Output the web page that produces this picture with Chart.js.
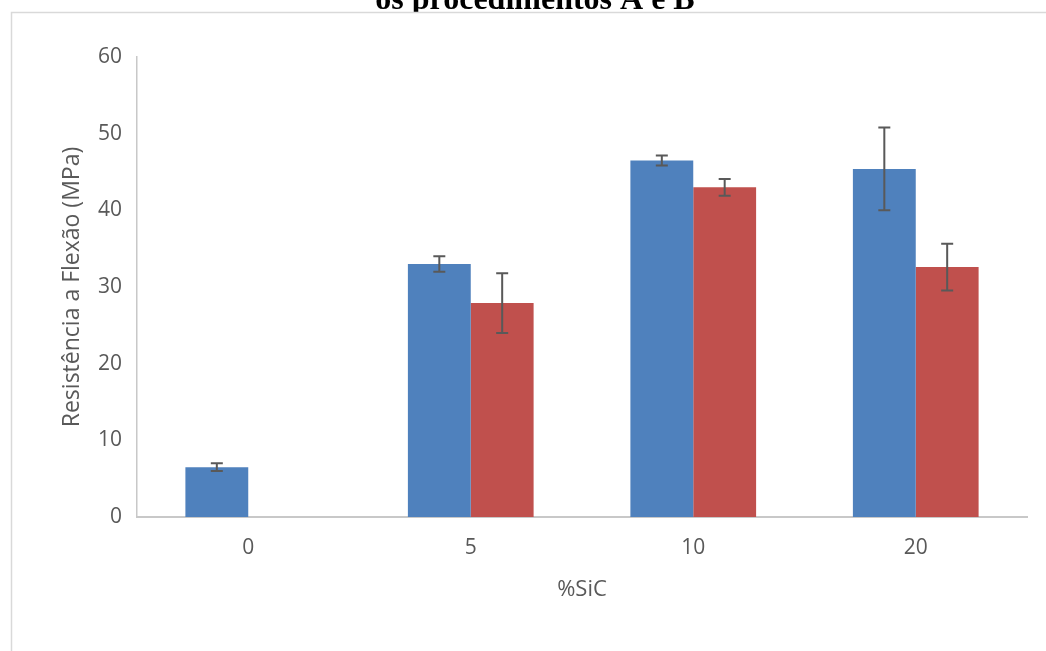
<!DOCTYPE html>
<html>
<head>
<meta charset="utf-8">
<script src="https://cdn.jsdelivr.net/npm/chart.js@4"></script>
<style>
  html, body { margin: 0; padding: 0; background: #fff; }
  #wrap { width: 1046px; height: 651px; position: relative; }
</style>
</head>
<body>
<div id="wrap"><canvas id="chart"></canvas></div>
<script>
const categories = ["0", "5", "10", "20"];
const seriesA = [6.5, 33.0, 46.5, 45.4];
const errorsA = [0.5, 1.0, 0.65, 5.4];
const seriesB = [null, 27.9, 43.0, 32.6];
const errorsB = [null, 3.9, 1.1, 3.05];
const yTicks = [0, 10, 20, 30, 40, 50, 60];

const grey = "#595959";

// white panel with a thin border, title peeking above it
const framePlugin = {
  id: "frame",
  beforeDraw(chart) {
    const ctx = chart.ctx;
    ctx.save();
    ctx.fillStyle = "#fff";
    ctx.fillRect(0, 0, chart.width, chart.height);
    ctx.fillStyle = "#000";
    ctx.font = "bold 32px 'Liberation Serif', 'Times New Roman', serif";
    ctx.textAlign = "center";
    ctx.textBaseline = "alphabetic";
    ctx.fillText("os procedimentos A e B", 535, 9);
    ctx.fillStyle = "#fff";
    ctx.fillRect(11, 12, chart.width, chart.height);
    ctx.strokeStyle = "#d9d9d9";
    ctx.lineWidth = 1.5;
    ctx.beginPath();
    ctx.moveTo(11.5, chart.height);
    ctx.lineTo(11.5, 12.5);
    ctx.lineTo(chart.width, 12.5);
    ctx.stroke();
    ctx.restore();
  }
};

// vertical error bars with caps
const errorBarPlugin = {
  id: "errorBars",
  afterDatasetsDraw(chart) {
    const ctx = chart.ctx;
    const y = chart.scales.y;
    const errs = [errorsA, errorsB];
    ctx.save();
    ctx.strokeStyle = grey;
    ctx.lineWidth = 2;
    chart.data.datasets.forEach((ds, i) => {
      const meta = chart.getDatasetMeta(i);
      meta.data.forEach((bar, j) => {
        const v = ds.data[j];
        const e = errs[i][j];
        if (v == null || e == null) return;
        const top = y.getPixelForValue(v + e);
        const bot = y.getPixelForValue(v - e);
        const x = bar.x;
        ctx.beginPath();
        ctx.moveTo(x, top);
        ctx.lineTo(x, bot);
        ctx.moveTo(x - 6, top);
        ctx.lineTo(x + 6, top);
        ctx.moveTo(x - 6, bot);
        ctx.lineTo(x + 6, bot);
        ctx.stroke();
      });
    });
    ctx.restore();
  }
};

const data = {
  labels: categories,
  datasets: [{
    label: "A",
    data: seriesA,
    backgroundColor: "#4f81bd",
    categoryPercentage: 0.565,
    barPercentage: 1.0
  }, {
    label: "B",
    data: seriesB,
    backgroundColor: "#c0504d",
    categoryPercentage: 0.565,
    barPercentage: 1.0
  }]
};

const config = {
  type: "bar",
  data: data,
  plugins: [framePlugin, errorBarPlugin],
  options: {
    responsive: true,
    maintainAspectRatio: false,
    animation: false,
    layout: {
      padding: {left: 12, top: 57, right: 19, bottom: 0}
    },
    plugins: {
      legend: {display: false},
      tooltip: {enabled: false}
    },
    scales: {
      x: {
        grid: {display: false, drawTicks: false},
        border: {display: true, color: "#c8c8c8", width: 2},
        ticks: {
          color: grey,
          padding: 18,
          font: {family: "'Open Sans'", size: 21}
        },
        title: {
          display: true,
          text: "%SiC",
          color: grey,
          padding: {top: 0, bottom: 48},
          font: {family: "'Open Sans'", size: 22}
        },
        afterFit(scale) { scale.height = 134; }
      },
      y: {
        min: 0,
        max: 60,
        afterBuildTicks(scale) {
          scale.ticks = yTicks.map(v => ({value: v}));
        },
        grid: {display: false, drawTicks: false},
        border: {display: true, color: "#c8c8c8", width: 1.5},
        ticks: {
          color: grey,
          padding: 15,
          font: {family: "'Open Sans'", size: 21}
        },
        title: {
          display: true,
          text: "Resistência a Flexão (MPa)",
          color: grey,
          padding: {top: 47, bottom: 0},
          font: {family: "'Open Sans'", size: 23}
        },
        afterFit(scale) { scale.width = 125; }
      }
    }
  }
};

new Chart(document.getElementById("chart"), config);
</script>
</body>
</html>
